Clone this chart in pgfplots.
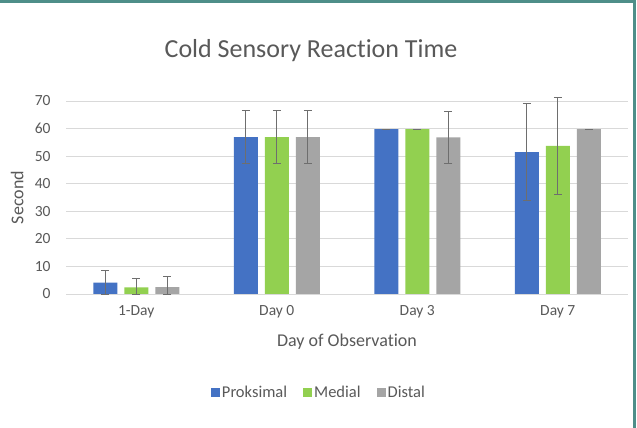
\documentclass[border=0pt]{standalone}
\usepackage{pgfplots}
\pgfplotsset{compat=1.18}
\usepackage{fontspec}
\setmainfont{Carlito}[Ligatures=NoCommon]
\definecolor{cblue}{HTML}{4472C4}
\definecolor{cgreen}{HTML}{92D050}
\definecolor{cgray}{HTML}{A5A5A5}
\definecolor{txt}{HTML}{595959}
\definecolor{gridc}{HTML}{D9D9D9}
\definecolor{errc}{HTML}{6E6E6E}
\definecolor{framec}{HTML}{4E8E89}
\begin{document}
\begin{tikzpicture}[x=1pt,y=1pt]
\path[use as bounding box] (0,0) rectangle (637,428);
\fill[white] (0,0) rectangle (637,428);
\draw[framec, line width=3.5pt] (0,426.3) -- (634.7,426.3) -- (634.7,0);
\node[text=txt, font=\fontsize{26}{30}\selectfont] at (311,377) {Cold Sensory Reaction Time};
\begin{axis}[
  at={(66pt,134pt)}, anchor=south west,
  width=562pt, height=193pt, scale only axis,
  clip=false,
  ybar=7pt, bar width=24pt,
  xmin=-0.5, xmax=3.5, ymin=0, ymax=70,
  ytick={0,10,...,70},
  xtick={0,1,2,3}, xticklabels={1-Day,Day 0,Day 3,Day 7},
  major tick length=0pt,
  ymajorgrids=true, xmajorgrids=false,
  grid style={draw=gridc, line width=0.8pt},
  axis lines*=left,
  x axis line style={draw=gridc, line width=0.8pt, -},
  y axis line style={draw=none},
  /pgf/number format/assume math mode=true,
  tick label style={text=txt, font=\fontsize{15.5}{18}\selectfont},
  yticklabel style={xshift=-12pt},
  xticklabel style={yshift=-8pt},
  xlabel={Day of Observation}, ylabel={Second},
  label style={text=txt, font=\fontsize{18}{21}\selectfont},
  xlabel style={at={(axis description cs:0.5,-0.249)}, anchor=center},
  ylabel style={at={(axis description cs:-0.087,0.5)}, anchor=center},
  legend style={at={(axis description cs:0.45,-0.508)}, anchor=center, draw=none, legend columns=-1, font=\fontsize{16.5}{19}\selectfont, text=txt, /tikz/every even column/.append style={column sep=14pt}},
  legend image code/.code={\fill[#1] (-2pt,-4.5pt) rectangle (7pt,4.5pt);},
  error bars/y dir=both, error bars/y explicit,
  error bars/error bar style={errc, line width=0.9pt},
  error bars/error mark options={errc, rotate=90, mark size=4pt, line width=0.9pt},
]
\addplot[fill=cblue, draw=none] coordinates {(0,4.1) += (0,4.4) -= (0,4.1) (1,56.9) +- (0,9.5) (2,59.8) +- (0,0) (3,51.5) +- (0,17.7)};
\addplot[fill=cgreen, draw=none] coordinates {(0,2.4) += (0,3.3) -= (0,2.4) (1,56.9) +- (0,9.5) (2,59.8) +- (0,0) (3,53.7) +- (0,17.5)};
\addplot[fill=cgray, draw=none] coordinates {(0,2.5) += (0,3.7) -= (0,2.5) (1,56.9) +- (0,9.5) (2,56.8) +- (0,9.3) (3,59.8) +- (0,0)};
\legend{Proksimal,Medial,Distal}
\end{axis}
\end{tikzpicture}
\end{document}
